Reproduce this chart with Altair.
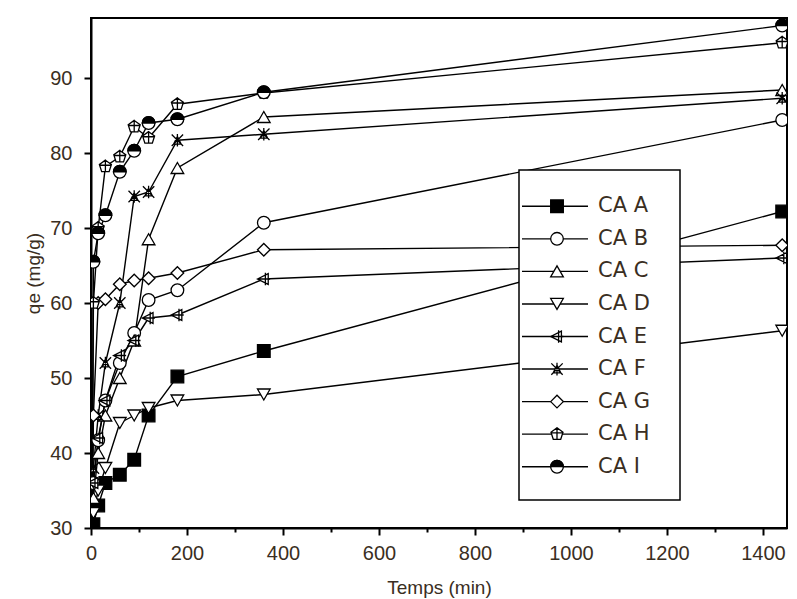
import altair as alt
import pandas as pd

# ---- data ----
times = [0, 5, 15, 30, 60, 90, 120, 180, 360, 1440]
series = ["CA  A", "CA B", "CA C", "CA D", "CA E", "CA F", "CA G", "CA H", "CA I"]
ca_a = [0, 30.5, 33.0, 36.0, 37.1, 39.1, 45.0, 50.2, 53.6, 72.2]
ca_b = [0, 36.0, 41.7, 47.0, 52.0, 56.0, 60.4, 61.7, 70.7, 84.4]
ca_c = [0, 34.0, 40.0, 45.0, 50.0, 55.0, 68.5, 78.0, 84.8, 88.4]
ca_d = [0, 32.0, 35.0, 38.0, 44.0, 45.0, 46.0, 47.0, 47.8, 56.3]
ca_e = [0, 36.0, 42.0, 47.0, 53.0, 55.0, 58.0, 58.4, 63.2, 66.0]
ca_f = [0, 38.0, 45.0, 52.0, 60.0, 74.2, 74.8, 81.7, 82.5, 87.3]
ca_g = [0, 45.0, 60.0, 60.5, 62.5, 63.0, 63.3, 64.0, 67.1, 67.7]
ca_h = [0, 60.0, 70.0, 78.2, 79.5, 83.5, 82.0, 86.5, 88.0, 94.7]
ca_i = [0, 65.5, 69.3, 71.7, 77.5, 80.3, 84.0, 84.5, 88.1, 97.0]
all_vals = [ca_a, ca_b, ca_c, ca_d, ca_e, ca_f, ca_g, ca_h, ca_i]

x_ticks = [0, 100, 200, 300, 400, 500, 600, 700, 800, 900, 1000, 1100, 1200, 1300, 1400]
y_ticks = [30, 35, 40, 45, 50, 55, 60, 65, 70, 75, 80, 85, 90, 95]

rows = []
for name, vals in zip(series, all_vals):
    for t, v in zip(times, vals):
        rows.append({"series": name, "t": t, "qe": v})
df = pd.DataFrame(rows)
leg_df = pd.DataFrame({"series": series})

# ---- marker shapes ----
E_path = "M-1,0L0.7,-0.85L0.7,0.85Z M0.25,-1L0.25,1 M-1,0L1,0"
F_path = "M-0.9,-0.9L0.9,0.9 M-0.9,0.9L0.9,-0.9 M0,-1L0,1 M-0.6,0.6L0.6,0.6L0,-0.6Z"
H_path = "M0,-1L0.95,-0.31L0.59,0.81L-0.59,0.81L-0.95,-0.31Z M0,-1.1L0,0.81 M-0.95,-0.2L0.95,-0.2"
half_path = "M-1,0A1,1,0,0,1,1,0Z"
shapes = ["square", "circle", "triangle-up", "triangle-down", E_path, F_path, "diamond", H_path, "circle"]
fills = ["black"] + ["white"] * 8

FONT = "Liberation Sans"
TXT = "#3a2e22"

xscale = alt.Scale(domain=[0, 1450], nice=False, zero=False)
yscale = alt.Scale(domain=[30, 98], nice=False, zero=False)
shape_scale = alt.Scale(domain=series, range=shapes)
fill_scale = alt.Scale(domain=series, range=fills)

x_axis = alt.Axis(values=x_ticks, orient="bottom", title="Temps (min)", grid=False, format="d",
                  labelExpr="datum.value % 200 === 0 ? datum.label : ''", ticks=True,
                  tickSize={"condition": {"test": "datum.value % 200 === 0", "value": 7}, "value": 4},
                  tickWidth=2, tickColor="black", domainColor="black", domainWidth=2,
                  labelFont=FONT, labelFontSize=20, labelColor=TXT, labelPadding=8,
                  titleFont=FONT, titleFontSize=19, titleFontWeight="normal", titleColor=TXT,
                  titlePadding=15, labelFlush=False, labelOverlap=False)
y_axis = alt.Axis(values=y_ticks, orient="left", title="qe (mg/g)", grid=False, format="d",
                  labelExpr="datum.value % 10 === 0 ? datum.label : ''", ticks=True,
                  tickSize={"condition": {"test": "datum.value % 10 === 0", "value": 7}, "value": 4},
                  tickWidth=2, tickColor="black", domainColor="black", domainWidth=2,
                  labelFont=FONT, labelFontSize=20, labelColor=TXT, labelPadding=12,
                  titleFont=FONT, titleFontSize=19, titleFontWeight="normal", titleColor=TXT,
                  titlePadding=6, labelFlush=False, labelOverlap=False)

base = alt.Chart(df)

lines = base.mark_line(clip=True, color="black", strokeWidth=1.4).encode(
    x=alt.X("t:Q", scale=xscale, axis=x_axis),
    y=alt.Y("qe:Q", scale=yscale, axis=y_axis),
    detail="series:N",
    order="t:Q",
)

pts = base.mark_point(clip=True, filled=True, stroke="black", strokeWidth=1.3, size=160,
                      opacity=1, fillOpacity=1).encode(
    x=alt.X("t:Q", scale=xscale),
    y=alt.Y("qe:Q", scale=yscale),
    shape=alt.Shape("series:N", scale=shape_scale, legend=None),
    fill=alt.Fill("series:N", scale=fill_scale, legend=None),
)

half = base.transform_filter(alt.datum.series == "CA I").mark_point(
    clip=True, filled=True, shape=half_path, color="black", stroke="black", strokeWidth=1.3,
    size=160, opacity=1).encode(
    x=alt.X("t:Q", scale=xscale),
    y=alt.Y("qe:Q", scale=yscale),
)

data_layer = alt.layer(lines, pts, half)

# ---- legend drawn inside the plot ----
ly = alt.Y("series:N", scale=alt.Scale(domain=series, range=[172, 465]), axis=None)
box = alt.Chart(pd.DataFrame({"a": [0]})).mark_rect(
    fill="white", stroke="black", strokeWidth=1.5).encode(
    x=alt.value(428), x2=alt.value(589), y=alt.value(152), y2=alt.value(482))
leg_lines = alt.Chart(leg_df).mark_rule(color="black", strokeWidth=1.4).encode(
    x=alt.value(431), x2=alt.value(497), y=ly)
leg_pts = alt.Chart(leg_df).mark_point(filled=True, stroke="black", strokeWidth=1.3, size=160,
                                       opacity=1, fillOpacity=1).encode(
    x=alt.value(466), y=ly,
    shape=alt.Shape("series:N", scale=shape_scale, legend=None),
    fill=alt.Fill("series:N", scale=fill_scale, legend=None),
)
leg_half = alt.Chart(leg_df).transform_filter(alt.datum.series == "CA I").mark_point(
    filled=True, shape=half_path, color="black", stroke="black", strokeWidth=1.3, size=160,
    opacity=1).encode(x=alt.value(466), y=ly)
leg_text = alt.Chart(leg_df).mark_text(align="left", baseline="middle", font="DejaVu Sans",
                                       fontSize=21, color=TXT).encode(
    x=alt.value(507), y=ly, text="series:N")
legend = alt.layer(leg_lines, leg_pts, leg_half, leg_text)

chart = alt.layer(data_layer, box, legend).resolve_scale(y="independent").properties(
    width=696, height=510,
    autosize=alt.AutoSizeParams(type="none"),
    padding={"left": 83, "top": 10, "right": 1, "bottom": 72},
).configure_view(stroke="black", strokeWidth=2)

chart.save("out.html", embed_options={"renderer": "svg", "actions": False})
